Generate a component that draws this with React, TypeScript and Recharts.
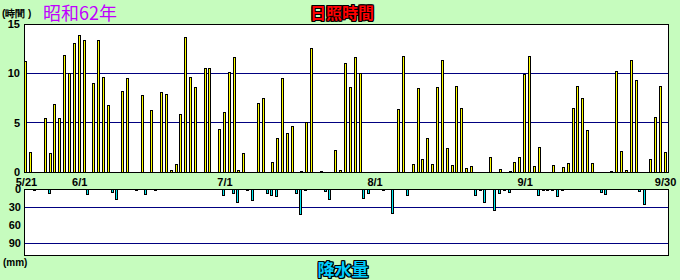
import { Bar, BarChart, CartesianGrid, ReferenceArea, XAxis, YAxis } from "recharts";

// 1987 (昭和62年) 5/21 - 9/30
const MONTH_SPANS = [
  { month: 5, first: 21, last: 31 },
  { month: 6, first: 1, last: 30 },
  { month: 7, first: 1, last: 31 },
  { month: 8, first: 1, last: 31 },
  { month: 9, first: 1, last: 30 }
];

const DATE_TICKS = ["5/21", "6/1", "7/1", "8/1", "9/1", "9/30"];
const SUN_TICKS = [0, 5, 10, 15];
const RAIN_TICKS = [0, 30, 60, 90];

// 日照時間 (hours), one per day
const SUNSHINE = [
  // 5/21 - 5/31
  11.3, 2.0, 0, 0, 5.5, 1.9, 6.9, 5.5, 11.9, 10.0, 13.1,
  // June
  13.9, 13.4, 0, 9.0, 13.4, 9.6, 6.8, 0, 0, 8.2, 9.5, 0, 0, 7.8, 0, 6.3, 0, 8.1, 7.9, 0.2,
  0.8, 5.9, 13.7, 9.6, 8.6, 0, 10.5, 10.5, 0, 4.4,
  // July
  6.1, 10.1, 11.7, 0.2, 1.9, 0, 0, 7.0, 7.5, 0, 1.0, 3.4, 9.5, 4.0, 4.7, 0.0, 0.1, 5.1, 12.6, 0,
  0.1, 0, 0, 2.2, 0.2, 11.0, 8.6, 11.7, 10.0, 0, 0,
  // August
  0, 0, 0, 0, 0, 6.4, 11.8, 0, 0.8, 8.5, 1.3, 3.4, 0.8, 8.6, 11.4, 2.4, 0.7, 8.7, 6.5, 0.4,
  0.6, 0, 0, 0, 1.5, 0, 0.3, 0, 0.1, 1.0, 1.5,
  // September
  9.9, 11.8, 0.6, 2.5, 0, 0, 0.7, 0, 0.5, 0.9, 6.5, 8.7, 7.5, 4.3, 0.9, 0, 0, 0, 0.1, 10.2,
  2.1, 0.2, 11.4, 9.3, 0, 0, 1.3, 5.6, 8.7, 2.0
];

// 降水量 (mm), one per day
const RAINFALL = [
  // 5/21 - 5/31
  0, 0, 1, 0, 0, 6.7, 0, 0, 0, 0, 0,
  // June
  0, 0, 8.3, 0, 0, 0, 0, 5, 16.7, 0, 0, 0, 1, 0, 8.3, 0, 1, 0, 0, 0,
  0, 0, 0, 0, 0, 0, 0, 0, 0, 0,
  // July
  10, 0, 6.7, 21.7, 0, 1, 18.3, 0, 0, 6.7, 10, 11.7, 0, 0, 0, 6.7, 41.7, 1, 0, 0,
  0, 3.3, 16.7, 0, 0, 0, 0, 0, 0, 15, 6.7,
  // August
  0, 0, 1, 0, 40, 0, 0, 10, 0, 0, 0, 0, 0, 0, 0, 0, 0, 0, 0, 0,
  0, 10, 1, 21.7, 0, 35, 6.7, 1, 5, 0, 0,
  // September
  0, 0, 0, 10, 1, 1, 1, 11.7, 1, 0, 0, 0, 0, 0, 0, 0, 5, 8.3, 0, 0,
  0, 0, 0, 0, 3.3, 25, 0, 0, 0, 0
];

const DATES = MONTH_SPANS.flatMap(({ month, first, last }) =>
  Array.from({ length: last - first + 1 }, (_, k) => `${month}/${first + k}`)
);

const rows = DATES.map((date, i) => ({ date, sun: SUNSHINE[i], rain: RAINFALL[i] }));

const BG = "#c6fcbe";
const NAVY = "#000080";
const TICK_STYLE = { fill: "#000", fontSize: 11, fontWeight: 700, fontFamily: "'Liberation Sans', Arial, sans-serif" };

const outline = "1px 0 #000, -1px 0 #000, 0 1px #000, 0 -1px #000, 1px 1px #000, -1px -1px #000, 1px -1px #000, -1px 1px #000";

// pixel-snapped bar: 3px wide, black edge, colored core
function crispBar(fill: string, shift: number) {
  return (props: any) => {
    const { x, y, width, height } = props;
    if (!height) return <g />;
    const y0 = Math.min(y, y + height);
    const y1 = Math.max(y, y + height);
    const left = Math.round(x + width / 2 - 1.5 + shift);
    const top = Math.round(y0);
    const h = Math.max(Math.round(y1) - top, 1);
    return (
      <g>
        <rect x={left} y={top} width={3} height={h + 1} fill="#000" />
        {h > 1 && <rect x={left + 1} y={top + 1} width={1} height={h - 1} fill={fill} />}
      </g>
    );
  };
}

export default function App() {
  return (
    <div
      style={{
        position: "fixed",
        left: 0,
        top: 0,
        width: 680,
        height: 280,
        background: BG,
        overflow: "hidden",
        fontFamily: "'Liberation Sans', Arial, sans-serif"
      }}
    >
      <style>{`
        .recharts-cartesian-grid line, .recharts-reference-area-rect { shape-rendering: crispEdges; }
      `}</style>

      <div style={{ position: "absolute", left: 2, top: 9, fontSize: 10, lineHeight: "10px", fontWeight: 700 }}>
        (時間 )
      </div>
      <div
        style={{
          position: "absolute",
          left: 43,
          top: 3,
          fontSize: 18,
          lineHeight: "18px",
          color: "#c000ff",
          fontFamily: "'Noto Sans CJK JP', sans-serif"
        }}
      >
        昭和62年
      </div>
      <div
        style={{
          position: "absolute",
          left: 2,
          width: 680,
          top: 4,
          fontSize: 16,
          lineHeight: "17px",
          fontWeight: 700,
          textAlign: "center",
          color: "#ff0000",
          textShadow: outline,
          fontFamily: "'Noto Sans CJK JP', sans-serif"
        }}
      >
        日照時間
      </div>

      <div style={{ position: "absolute", left: 0, top: 0 }}>
        <BarChart width={680} height={190} data={rows} margin={{ top: 24, right: 12, left: 0, bottom: 0 }}>
          <CartesianGrid vertical={false} stroke={NAVY} fill="#fff" />
          <XAxis
            dataKey="date"
            ticks={DATE_TICKS}
            interval={0}
            height={18}
            axisLine={false}
            tickLine={false}
            tickSize={0}
            tickMargin={6}
            tick={TICK_STYLE}
          />
          <YAxis
            domain={[0, 15]}
            ticks={SUN_TICKS}
            width={24}
            axisLine={false}
            tickLine={false}
            tickSize={0}
            tickMargin={4}
            tick={TICK_STYLE}
          />
          <Bar dataKey="sun" barSize={3} isAnimationActive={false} shape={crispBar("#ffff00", -0.6)} />
          <ReferenceArea y1={0} y2={15} fill="none" stroke="#000" strokeWidth={1} />
        </BarChart>
      </div>

      <div style={{ position: "absolute", left: 0, top: 180 }}>
        <BarChart width={680} height={100} data={rows} margin={{ top: 9, right: 12, left: 0, bottom: 25 }}>
          <CartesianGrid vertical={false} stroke={NAVY} fill="#fff" />
          <XAxis dataKey="date" hide />
          <YAxis
            reversed
            domain={[0, 110]}
            ticks={RAIN_TICKS}
            width={24}
            axisLine={false}
            tickLine={false}
            tickSize={0}
            tickMargin={3}
            tick={TICK_STYLE}
          />
          <Bar dataKey="rain" barSize={3} isAnimationActive={false} shape={crispBar("#00e8f0", -1.6)} />
          <ReferenceArea y1={0} y2={110} fill="none" stroke="#000" strokeWidth={1} />
        </BarChart>
      </div>

      <div style={{ position: "absolute", left: 3, top: 258, fontSize: 10, lineHeight: "10px", fontWeight: 700 }}>
        (mm)
      </div>
      <div
        style={{
          position: "absolute",
          left: 3,
          width: 680,
          top: 260,
          fontSize: 17,
          lineHeight: "18px",
          fontWeight: 700,
          textAlign: "center",
          color: "#00ccff",
          textShadow: outline,
          fontFamily: "'Noto Sans CJK JP', sans-serif"
        }}
      >
        降水量
      </div>
    </div>
  );
}
